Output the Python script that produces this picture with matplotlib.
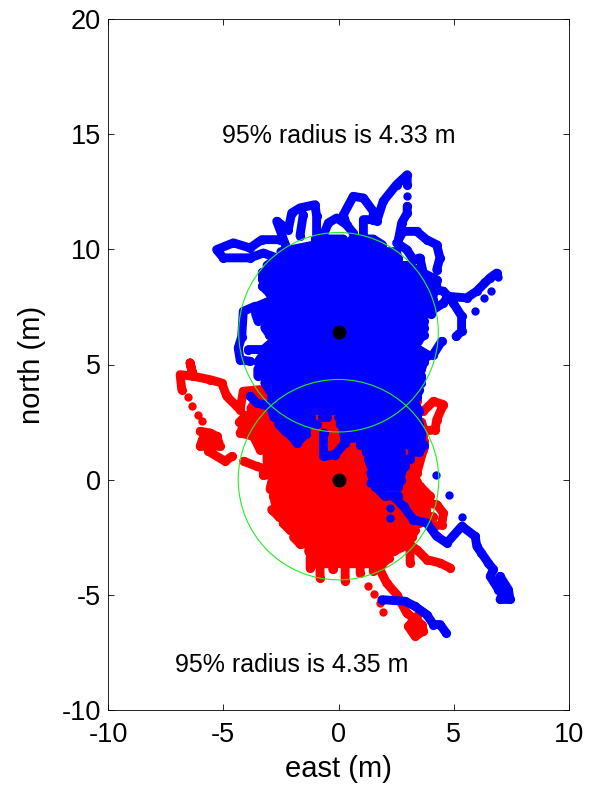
import numpy as np
import matplotlib
matplotlib.use('Agg')
import matplotlib.pyplot as plt
from matplotlib.patches import Circle

plt.rcParams['font.family'] = ['Liberation Sans', 'DejaVu Sans']
BR = (float('nan'), float('nan'))  # pen up

# everything is (east, north) in metres
# red trace, back and forth across the dense part
red_scan = [(-4.0,3.7),(3.4,3.7),(3.4,3.4),(-3.6,3.4),(-3.8,3.1),(3.3,3.1),(3.4,2.8),(-4.0,2.8),
            (-4.3,2.5),(3.6,2.5),(3.7,2.2),(-4.2,2.2),(-3.0,2.0),(3.6,2.0),(3.7,1.7),(-3.4,1.7),
            (-3.1,1.4),(3.7,1.4),(3.6,1.1),(-3.1,1.1),(-3.1,0.8),(3.5,0.8),(3.4,0.5),(-3.26,0.5),
            (-3.26,0.2),(3.3,0.2),(3.4,-0.1),(-2.9,-0.1),(-2.97,-0.4),(3.6,-0.4),(3.9,-0.7),(-2.82,-0.7),
            (-2.75,-1.0),(3.5,-1.0),(3.8,-1.3),(-2.9,-1.3),(-2.6,-1.6),(4.1,-1.6),(3.5,-1.9),(-2.4,-1.9),
            (-2.1,-2.2),(3.3,-2.2),(3.2,-2.5),(-1.95,-2.5),(-1.66,-2.8),(3.1,-2.8),(2.4,-3.1),(-1.3,-3.1),
            (-1.15,-3.4),(2.2,-3.4),(1.9,-3.65),(-1.1,-3.65)]
# red strands and fingers around the dense part
red_edge = [(-3.4,3.91),(-4.13,3.84),(-4.27,3.04),(-4.85,3.62),(-5.07,4.2),(-5.57,4.34),(-6.3,4.49),(-6.44,5.07),(-6.3,4.49),
            (-6.87,4.56),(-6.8,3.91),BR,
            (-4.27,2.03),(-3.69,1.88),(-3.4,1.3),BR,
            (-6.0,2.1),(-5.57,2.03),(-5.28,1.88),(-5.14,1.45),(-6.0,1.45),(-5.9,1.75),(-5.3,1.6),(-5.64,1.23),(-4.92,0.8),(-4.63,1.01),BR,
            (-4.12,0.8),(-3.55,0.58),(-3.11,0.44),BR,
            (3.4,0.29),(3.68,1.3),(3.68,2.1),(4.19,2.17),(4.26,2.6),(4.55,3.26),(4.12,3.4),(3.68,2.97),BR,
            (3.54,-0.29),(3.97,-0.72),(3.68,-1.08),BR,
            (3.6,-1.0),(4.26,-1.08),(4.55,-1.45),(4.48,-1.95),(4.12,-2.03),BR,
            (2.9,-2.7),(3.4,-3.04),(3.83,-3.47),(4.41,-3.62),(4.84,-3.83),BR,
            (3.1,-2.9),(3.11,-3.62),BR,
            (-1.23,-3.4),(-1.23,-3.84),BR,(-0.8,-3.4),(-0.8,-4.27),BR,(-0.25,-3.4),(-0.25,-3.9),BR,
            (0.29,-3.4),(0.29,-4.4),BR,(0.94,-3.4),(0.94,-4.05),BR,(1.51,-3.4),(1.51,-3.95),BR,
            (1.4,-3.3),(1.8,-3.91),(2.09,-4.49),(2.53,-4.99),(2.96,-5.79),(3.61,-6.29),(3.68,-6.58),(3.32,-6.8),
            (3.03,-6.37),(3.4,-5.93),(3.3,-6.4)]
red_dots = [(-6.51,3.58),(-6.37,3.21),(-6.08,2.82),(-5.93,2.53),(1.26,-4.63),(1.54,-4.96),(1.8,-5.35),(1.95,-5.76)]

# blue trace, dense part
blue_scan = [(-1.0,10.45),(0.2,10.45),BR,(0.6,10.45),(1.5,10.45),(1.9,10.2),(-1.0,10.2),(-2.5,9.9),(2.5,9.9),
             (2.6,9.6),(-2.7,9.6),(-3.1,9.3),(3.0,9.3),(3.6,9.0),(-3.3,9.0),(-3.3,8.7),(4.0,8.7),
             (4.1,8.4),(-3.3,8.4),(-3.0,8.1),(4.1,8.1),(4.1,7.8),(-2.9,7.8),(-3.6,7.5),(4.1,7.5),
             (4.0,7.2),(-3.6,7.2),(-3.5,6.9),(3.7,6.9),(3.7,6.6),(-3.2,6.6),(-3.0,6.3),(3.7,6.3),
             (3.45,6.0),(-2.85,6.0),(-3.2,5.7),(3.4,5.7),(3.9,5.4),(-3.3,5.4),(-3.5,5.1),(3.7,5.1),
             (3.6,4.8),(-3.5,4.8),(-3.5,4.5),(3.6,4.5),(3.6,4.2),(-3.2,4.2),(-3.0,3.9),(3.5,3.9),
             (3.4,3.6),(-2.9,3.6),(-2.9,3.3),(3.3,3.3),(3.5,3.0),(-2.9,3.0),(-2.8,2.7),(-1.2,2.7),
             BR,(-0.7,2.7),(-0.5,2.7),BR,(0.0,2.7),(3.4,2.7),(3.5,2.4),(0.07,2.4),
             BR,(-0.94,2.4),(-2.6,2.4),(-2.3,2.1),(-1.4,2.1),BR,
             (0.3,2.1),(3.6,2.1),(3.6,1.8),(0.4,1.8),BR,(0.95,1.5),(3.7,1.5),(3.5,1.2),(3.2,1.2),BR,(2.7,1.2),(1.2,1.2),
             BR,(3.1,0.9),(1.3,0.9),(1.4,0.6),(2.9,0.6),(2.7,0.3),(1.4,0.3),(1.5,0.0),(2.7,0.0),
             (2.6,-0.3),(1.6,-0.3),(2.0,-0.7),(2.6,-0.7)]
# blue strands
blue_edge = [(-2.6,9.6),(-3.26,9.84),(-3.84,9.63),(-5.0,9.63),(-5.29,9.99),(-4.56,10.28),(-3.84,10.06),(-3.33,10.42),(-2.54,10.42),BR,
             (-2.3,10.2),(-2.68,11.22),(-2.18,10.86),(-2.03,11.58),(-1.67,11.8),(-1.02,11.94),(-0.95,11.44),(-0.95,10.6),BR,
             (-1.53,11.5),(-1.67,10.6),BR,
             (-0.7,10.5),(-0.44,11.15),(-0.08,11.36),(0.35,11.07),(0.64,10.71),BR,
             (0.35,11.07),(0.21,11.5),(0.64,12.3),(1.08,12.23),(1.51,11.65),(1.51,11.29),(1.08,11.29),(1.08,10.57),BR,
             (1.51,11.29),(1.66,11.22),(1.94,12.09),(2.52,12.81),(2.98,13.24),(2.98,12.81),BR,
             (2.98,11.87),(2.98,11.58),(2.74,11.15),(2.6,10.42),(2.81,10.78),(3.39,10.78),(3.82,10.42),(4.26,10.2),(4.4,9.63),(4.26,9.12),BR,
             (2.52,10.28),(2.96,9.99),(3.25,9.55),(3.53,9.63),(3.68,8.97),(4.26,8.68),(4.26,8.25),(4.55,8.18),(4.76,7.96),(5.56,7.89),(5.99,8.18),(6.57,8.76),(6.86,8.97),BR,
             (4.0,7.3),(4.55,7.67),(4.76,7.96),(4.98,7.67),(5.34,7.1),(5.34,6.44),(5.1,6.22),BR,
             (4.47,6.0),(4.11,5.43),(3.82,5.36),BR,
             (-3.62,7.53),(-4.13,7.31),(-4.2,6.2),(-4.35,5.72),(-4.27,5.21),(-3.84,5.14),BR,
             (-3.91,5.65),(-3.26,5.65),BR,
             (-3.83,3.62),(-3.55,3.33),(-2.97,3.18),BR,
             (-0.65,2.03),(-0.65,1.01),(-0.15,1.09),(0.29,1.6),(0.2,2.2),BR,
             (-1.81,1.6),(-2.17,2.03),(-1.4,2.0),(-1.81,1.6),BR,
             (2.38,-0.72),(2.82,-1.16),(3.25,-1.74),(3.83,-1.88),(4.26,-2.46),(4.7,-2.75),(5.35,-2.02),(5.93,-2.46),(6.0,-2.9),(6.2,-3.18),
             (6.5,-3.62),(6.72,-3.9),(6.58,-4.2),(6.94,-4.77),(7.01,-4.2),(7.37,-4.77),(7.44,-5.2),(7.01,-5.2),(7.2,-4.8),BR,
             (1.88,-5.21),(2.89,-5.28),(3.32,-5.5),(3.83,-5.86),(4.12,-6.29),(4.41,-6.29),(4.67,-6.66)]
blue_dots = [(2.98,12.33),(6.33,8.57),(6.9,8.79),(6.6,8.21),(6.33,7.89),(5.92,7.31),(4.23,0.22),(4.8,-0.68),
             (5.35,-1.63),(2.24,-1.23),(2.24,-1.66),(1.95,-0.65),(1.37,-0.14)]

centre_east = [0, 0]
centre_north = [0, 6.4]
radius_95 = [4.35, 4.33]
radius_labels = ['95% radius is 4.35 m', '95% radius is 4.33 m']
label_east = [-2.05, 0]
label_north = [-8.03, 14.93]

fig = plt.figure(figsize=(5.94, 7.86), dpi=100)
ax = fig.add_axes([108/594, 1-710/786, 461/594, 691/786])

def trace(pts, color):
    pts = np.array(pts, dtype=float)
    ax.plot(pts[:, 0], pts[:, 1], '-o', color=color, lw=6.4, ms=6.6, mew=0, solid_capstyle='round', solid_joinstyle='round')

def dots(pts, color):
    pts = np.array(pts, dtype=float)
    ax.plot(pts[:, 0], pts[:, 1], 'o', color=color, ms=6, mew=0)

trace(red_scan, '#ff0000')
trace(red_edge, '#ff0000')
dots(red_dots, '#ff0000')
trace(blue_scan, '#0000ff')
trace(blue_edge, '#0000ff')
dots(blue_dots, '#0000ff')

ax.plot(centre_east, centre_north, 'o', color='k', ms=10, mew=0, zorder=4)
for e, n, r in zip(centre_east, centre_north, radius_95):
    ax.add_patch(Circle((e, n), r, fill=False, ec='#22ee22', lw=0.8, zorder=5))
for e, n, s in zip(label_east, label_north, radius_labels):
    ax.text(e, n, s, ha='center', va='center', fontsize=18)

ax.set_xlim(-10, 10)
ax.set_ylim(-10, 20)
ax.set_xticks([-10, -5, 0, 5, 10])
ax.set_yticks([-10, -5, 0, 5, 10, 15, 20])
ax.set_xticklabels(['-10', '-5', '0', '5', '10'])
ax.set_yticklabels(['-10', '-5', '0', '5', '10', '15', '20'])
ax.tick_params(direction='in', top=True, right=True, length=4, width=0.6, labelsize=19.5, pad=5)
ax.tick_params(axis='x', pad=9)
for s in ax.spines.values():
    s.set_linewidth(0.6)
ax.set_xlabel('east (m)', fontsize=21, labelpad=5)
ax.set_ylabel('north (m)', fontsize=21, labelpad=11)

plt.savefig('out.png', dpi=100)
